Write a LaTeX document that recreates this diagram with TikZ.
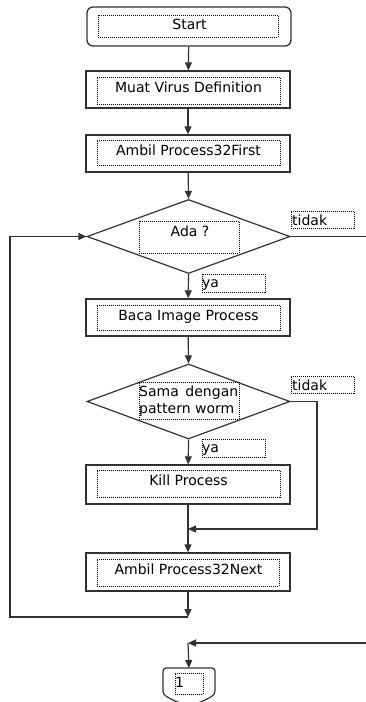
\documentclass[tikz,border=0pt]{standalone}
\usepackage{fontspec}
\setmainfont{DejaVu Sans}
\usetikzlibrary{arrows.meta,shapes.geometric}
\definecolor{linec}{HTML}{333333}

\begin{document}
\begin{tikzpicture}[x=1pt,y=-1pt,
  line/.style={draw=linec,line width=1.2pt},
  arr/.style={line,-{Triangle[length=8pt,width=7pt]}},
  outer/.style={draw=linec,line width=1.3pt,fill=white,rectangle,inner sep=0,minimum width=204pt},
  decide/.style={draw=linec,line width=1.2pt,fill=white,diamond,inner sep=0,minimum width=203pt,minimum height=74pt},
  inbox/.style={draw=black,line width=0.8pt,dash pattern=on 1pt off 1pt,rectangle,inner sep=0},
  txt/.style={inner sep=0,font=\fontsize{14}{17}\selectfont,text=black},
]
\useasboundingbox (0,0) rectangle (365,702);

% main column
\node[outer,rounded corners=6pt,minimum height=39pt] (start) at (189,26.5) {};
\node[inbox,minimum width=180pt,minimum height=22pt] (startin) at (188,26) {};
\node[txt,anchor=base] (startt) at (189.5,29) {Start};

\node[outer,minimum height=37pt] (muat) at (188,89.5) {};
\node[inbox,minimum width=183pt,minimum height=27pt] (muatin) at (188.5,90.5) {};
\node[txt,anchor=base] (muatt) at (188.5,92) {Muat Virus Definition};

\node[outer,minimum height=37pt] (first) at (188,153.5) {};
\node[inbox,minimum width=183pt,minimum height=25pt] (firstin) at (188.5,152.5) {};
\node[txt,anchor=base] (firstt) at (188.5,155) {Ambil Process32First};

\node[decide] (ada) at (188.5,236.5) {};
\node[inbox,minimum width=100pt,minimum height=32pt] (adain) at (189,237) {};
\node[txt,anchor=base] (adat) at (190,236) {Ada ?};
\node[inbox,minimum width=63pt,minimum height=17pt] (tidaka) at (322.5,219.5) {};
\node[txt,anchor=base west] (tidakat) at (292,225) {tidak};
\node[inbox,minimum width=63pt,minimum height=18pt] (yaa) at (233.5,283) {};
\node[txt,anchor=base west] (yaat) at (202,287) {ya};

\node[outer,minimum height=37pt] (baca) at (188,317.5) {};
\node[inbox,minimum width=183pt,minimum height=25pt] (bacain) at (188.5,317.5) {};
\node[txt,anchor=base] (bacat) at (188.5,320) {Baca Image Process};

\node[decide,minimum height=75pt] (sama) at (188.5,401.5) {};
\node[inbox,minimum width=100pt,minimum height=37pt] (samain) at (189,400.5) {};
\node[txt,anchor=base west] (samat1) at (139,396) {\makebox[99pt][s]{Sama dengan}};
\node[txt,anchor=base west] (samat2) at (139,413) {pattern worm};
\node[inbox,minimum width=63pt,minimum height=17pt] (tidakb) at (322.5,384.5) {};
\node[txt,anchor=base west] (tidakbt) at (292,390) {tidak};
\node[inbox,minimum width=63pt,minimum height=18pt] (yab) at (233.5,448) {};
\node[txt,anchor=base west] (yabt) at (202,452) {ya};

\node[outer,minimum height=39pt] (kill) at (188,484.5) {};
\node[inbox,minimum width=183pt,minimum height=27pt] (killin) at (188.5,483.5) {};
\node[txt,anchor=base] (killt) at (188.5,485) {Kill Process};

\node[outer,minimum height=38pt] (next) at (188,572) {};
\node[inbox,minimum width=182pt,minimum height=27pt] (nextin) at (188,572.5) {};
\node[txt,anchor=base] (nextt) at (188.5,574) {Ambil Process32Next};

% off-page connector
\coordinate (off) at (189,668);
\draw[line,line width=1.2pt,fill=white,rounded corners=3pt]
  (163,694) -- (163,668) -- (215,668) -- (215,694)
  .. controls (205,701) and (195,704) .. (189,705)
  .. controls (183,704) and (173,701) .. (163,694) -- cycle;
\node[inbox,minimum width=28pt,minimum height=21pt] (offin) at (189,683.5) {};
\node[txt,anchor=base west] (offt) at (175,687) {1};

% junction points
\coordinate (merge) at (188,529);
\coordinate (back) at (188,617);
\coordinate (edgeA) at (366,236.5);
\coordinate (edgeB) at (366,643);
\coordinate (conn) at (188,643);

% connectors
\draw[arr] (start) -- (muat);
\draw[arr] (muat) -- (first);
\draw[arr] (first) -- (ada.north);
\draw[arr] (ada.south) -- (baca);
\draw[arr] (baca) -- (sama.north);
\draw[arr] (sama.south) -- (kill);
\draw[arr] (kill) -- (next);
\draw[arr] (sama.east) -| (317,529) -- (merge);
\draw[arr] (next) -- (back);
\draw[arr] (back) -- (10,617) -- (10,236.5) -- (ada.west);
\draw[line] (ada.east) -- (edgeA);
\draw[arr] (edgeB) -- (conn);
\draw[arr] (conn) -- (off);
\end{tikzpicture}
\end{document}
